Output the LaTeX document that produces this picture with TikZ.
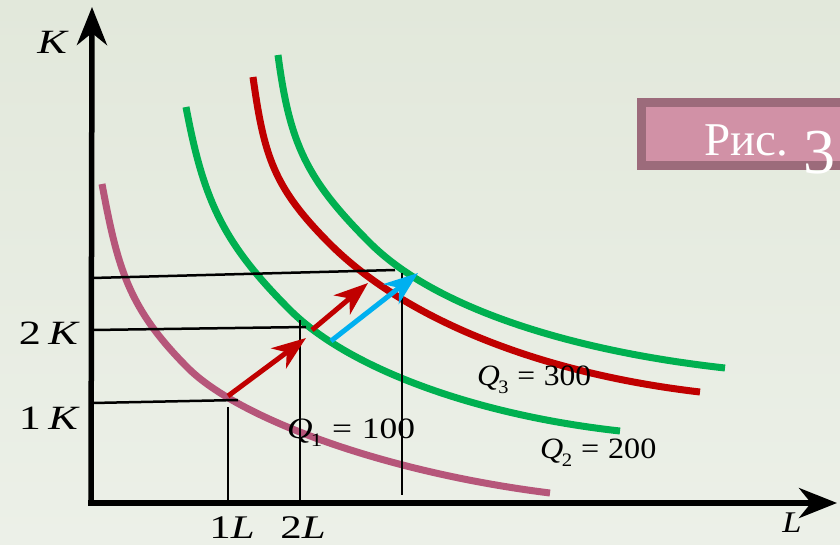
\documentclass[tikz,border=0pt]{standalone}
\usepackage{fontspec}
\setmainfont{Liberation Serif}
\usepackage{graphicx}
\usetikzlibrary{arrows.meta}
\definecolor{isoPink}{RGB}{182,86,122}
\definecolor{isoGreen}{RGB}{0,176,80}
\definecolor{isoRed}{RGB}{192,0,0}
\definecolor{isoBlue}{RGB}{0,176,240}
\definecolor{bgTop}{RGB}{226,232,219}
\definecolor{bgBottom}{RGB}{236,240,232}
\definecolor{tagDark}{RGB}{156,107,123}
\definecolor{tagLight}{RGB}{209,145,166}
\newcommand{\wide}[2][1.3]{\scalebox{#1}[1]{#2}}
\newcommand{\qval}[2]{\textit{Q}\kern-1.5pt\raisebox{-0.28em}{\fontsize{19}{19}\selectfont #1}\;=\;#2}

\begin{document}
\begin{tikzpicture}[x=1pt,y=-1pt,
  axis/.style={line width=5.5pt, -{Stealth[length=38pt,width=30pt,inset=12pt]}},
  guide/.style={line width=2.5pt},
  iso/.style={line width=7pt},
  move/.style={line width=5pt, -{Stealth[length=34pt,width=25pt,inset=10pt]}},
  lab/.style={inner sep=0pt, font=\fontsize{34}{34}\selectfont},
  qlab/.style={inner sep=0pt, font=\fontsize{29.5}{30}\selectfont}
]

% background
\fill[top color=bgTop, bottom color=bgBottom] (0,0) rectangle (840,544);
\useasboundingbox (0,0) rectangle (840,544);

% tag box
\fill[tagDark] (637,98) rectangle (842,170);
\fill[tagLight] (646,107) rectangle (842,161);
\node[inner sep=0pt, anchor=base west, text=white, font=\fontsize{47}{47}\selectfont] (tag) at (704,155)
  {Рис. \raisebox{-18pt}{\fontsize{64}{64}\selectfont 3}};

% isoquants
% Q1 = 100
\draw[iso, isoPink] (102,184) .. controls (117.6,267.6) and (127.9,307.9) .. (188,368)
  .. controls (237.5,417.5) and (381.4,471.9) .. (550,493);
% Q2 = 200
\draw[iso, isoGreen] (186,107) .. controls (203.6,200.4) and (222.8,242.8) .. (290,310)
  .. controls (346.6,366.6) and (471,414.5) .. (620,431);
% Q3 = 300
\draw[iso, isoRed] (253,77) .. controls (264,156) and (273.4,187.4) .. (330,244)
  .. controls (400.7,314.7) and (531,372.3) .. (700,392);
% outer green
\draw[iso, isoGreen] (278,55) .. controls (289.7,144) and (306.4,179.4) .. (370,243)
  .. controls (433.6,306.6) and (566.6,350.4) .. (725,368);

% guide lines
\coordinate (k3a) at (92,278);  \coordinate (k3b) at (395,270);
\coordinate (k2a) at (92,330);  \coordinate (k2b) at (306,327);
\coordinate (k1a) at (92,403);  \coordinate (k1b) at (238,400);
\coordinate (l1a) at (228,407); \coordinate (l1b) at (228,503);
\coordinate (l2a) at (300,320); \coordinate (l2b) at (300,503);
\coordinate (l3a) at (402,273); \coordinate (l3b) at (402,495);
\draw[guide] (k3a) -- (k3b);
\draw[guide] (k2a) -- (k2b);
\draw[guide] (k1a) -- (k1b);
\draw[guide] (l1a) -- (l1b);
\draw[guide] (l2a) -- (l2b);
\draw[guide] (l3a) -- (l3b);

% moves
\coordinate (r1s) at (228,396); \coordinate (r1e) at (306,338);
\coordinate (r2s) at (312,330); \coordinate (r2e) at (368,283);
\coordinate (b1s) at (331,341); \coordinate (b1e) at (418,273);
\draw[move, isoRed] (r1s) -- (r1e);
\draw[move, isoRed] (r2s) -- (r2e);
\draw[move, isoBlue] (b1s) -- (b1e);

% axes
\coordinate (origin) at (91,505);
\coordinate (ktip) at (92,7);
\coordinate (lstart) at (88,503);
\coordinate (ltip) at (837,503);
\draw[axis] (origin) -- (ktip);
\draw[axis] (lstart) -- (ltip);

% labels
\node[lab, anchor=base] (kax) at (53,53) {\wide{\textit{K}}};
\node[lab, anchor=base, font=\fontsize{30}{30}\selectfont] (lax) at (792,532) {\wide[1.15]{\textit{L}}};
\node[lab, anchor=base east] (k2) at (80,344) {\wide{2\,\textit{K}}};
\node[lab, anchor=base east] (k1) at (80,429) {\wide{1\,\textit{K}}};
\node[lab, anchor=base, text depth=0pt, font=\fontsize{33}{33}\selectfont] (l1) at (232,538) {\wide{1\textit{L}}};
\node[lab, anchor=base, text depth=0pt, font=\fontsize{33}{33}\selectfont] (l2) at (303,538) {\wide{2\textit{L}}};
\node[qlab, anchor=base west] (q1) at (287,438) {\wide[1.2]{\qval{1}{100}}};
\node[qlab, anchor=base west] (q3) at (477,385) {\wide[1.07]{\qval{3}{300}}};
\node[qlab, anchor=base west] (q2) at (540,458) {\wide[1.09]{\qval{2}{200}}};

\end{tikzpicture}
\end{document}
